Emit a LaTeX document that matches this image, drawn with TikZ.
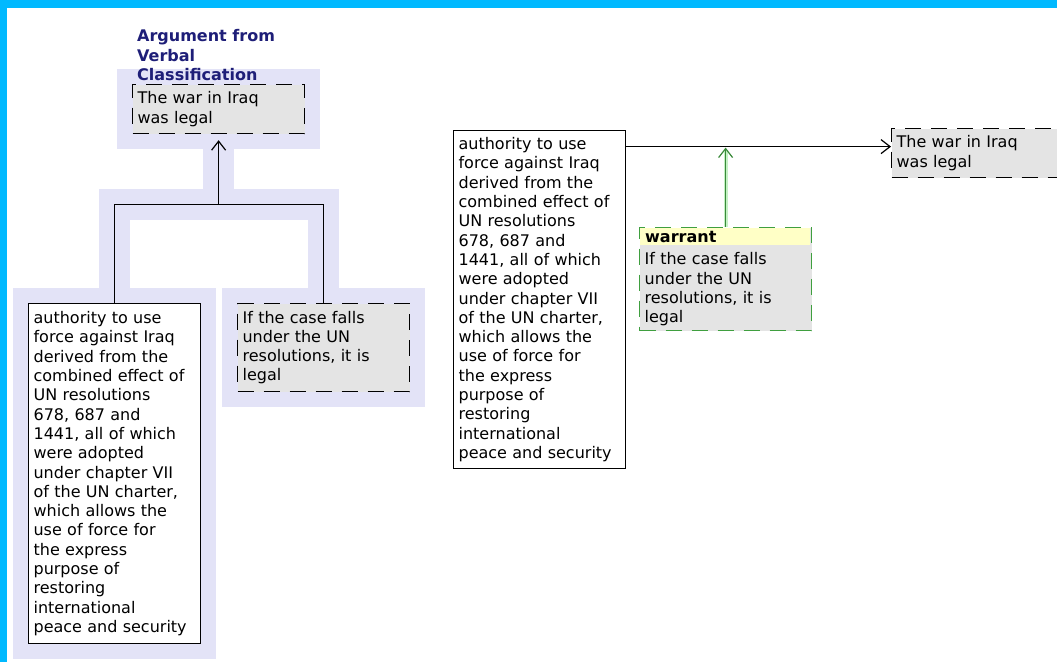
\documentclass[tikz,border=0pt]{standalone}
\usepackage{fontspec}
\setmainfont{DejaVu Sans}
\usepackage{tikz}
\usetikzlibrary{arrows.meta,positioning,fit,backgrounds}
\definecolor{FrameBlue}{HTML}{00B9FF}
\definecolor{HaloLav}{HTML}{E3E3F7}
\definecolor{ClaimGray}{HTML}{E4E4E4}
\definecolor{TitleNavy}{HTML}{1E1E78}
\definecolor{WarrGreen}{HTML}{3F9F3F}
\definecolor{GlowGreen}{HTML}{C4F2C4}
\definecolor{HeadYellow}{HTML}{FFFFC6}
\definecolor{LineGreen}{HTML}{3A8A3A}
\tikzset{
  claim/.style={rectangle,align=left,anchor=north west,text width=162pt,
              inner xsep=5pt,inner ysep=4pt,line width=1.2pt,
              font=\fontsize{16}{19.3}\selectfont},
  whitebox/.style={claim,draw=black,fill=white},
  graybox/.style={claim,draw=black,fill=ClaimGray,dash pattern=on 16pt off 10pt},
  warrbox/.style={claim,draw=WarrGreen,fill=ClaimGray,dash pattern=on 16pt off 10pt},
  headbox/.style={rectangle,anchor=north west,fill=HeadYellow,text width=160pt,
              inner xsep=5pt,inner ysep=1pt,minimum height=17pt,
              font=\fontsize{16}{19.3}\selectfont\bfseries},
  title/.style={align=left,inner sep=0pt,text=TitleNavy,
              font=\fontsize{16}{19.5}\selectfont\bfseries},
  halo/.style={fill=HaloLav,draw=none,inner sep=15pt},
  haloline/.style={draw=HaloLav,line width=31pt},
  link/.style={draw=black,line width=1.2pt},
  arr/.style={link,-{Straight Barb[length=9pt,width=14pt]}},
  greenarr/.style={draw=LineGreen,line width=1.2pt,-{Straight Barb[length=9pt,width=14pt]}},
  glowline/.style={draw=GlowGreen,line width=4pt}
}
\begin{document}
\begin{tikzpicture}[x=1pt,y=-1pt]
  \useasboundingbox (0,0) rectangle (1057,662);
  \clip (0,0) rectangle (1057,662);
  \fill[FrameBlue] (0,0) rectangle (1057,8);
  \fill[FrameBlue] (0,0) rectangle (7,662);

  % selected argument
  \node[graybox,minimum height=49pt] (concl) at (132,84) {The war in Iraq\\was legal};
  \node[title,anchor=south west] (scheme) at (137,81) {Argument from\\Verbal\\Classification};
  \node[whitebox,minimum height=340pt] (prem) at (28,303) {authority to use\\force against Iraq\\derived from the\\combined effect of\\UN resolutions\\678, 687 and\\1441, all of which\\were adopted\\under chapter VII\\of the UN charter,\\which allows the\\use of force for\\the express\\purpose of\\restoring\\international\\peace and security};
  \node[graybox,minimum height=88pt] (warr) at (237,303) {If the case falls\\under the UN\\resolutions, it is\\legal};
  \coordinate[below=70pt of concl.south] (join);

  \draw[link] (prem.north) |- (join) -| (warr.north);
  \draw[arr,shorten >=6pt] (join) -- (concl.south);

  % toulmin view
  \node[whitebox,minimum height=338pt] (prem2) at (453,130) {authority to use\\force against Iraq\\derived from the\\combined effect of\\UN resolutions\\678, 687 and\\1441, all of which\\were adopted\\under chapter VII\\of the UN charter,\\which allows the\\use of force for\\the express\\purpose of\\restoring\\international\\peace and security};
  \node[graybox,minimum height=49pt] (concl2) at (891,128) {The war in Iraq\\was legal};
  \node[warrbox,minimum height=103pt] (warr2) at (639,227) {\strut\\If the case falls\\under the UN\\resolutions, it is\\legal};
  \node[headbox] (head2) at ([shift={(1,1)}]warr2.north west) {warrant};
  \coordinate (tip2) at ([yshift=6.5pt]concl2.west);

  \draw[arr] (prem2.east |- tip2) -- (tip2);
  \draw[glowline] (warr2.north) -- ([yshift=-3pt]warr2.north |- tip2);
  \draw[greenarr,shorten >=1pt] (warr2.north) -- (warr2.north |- tip2);

  \begin{scope}[on background layer]
    \fill[white] (7,8) rectangle (1057,662);
    \node[halo,fit=(concl)] (concl-halo) {};
    \node[halo,fit=(prem)] (prem-halo) {};
    \node[halo,fit=(warr)] (warr-halo) {};
    \draw[haloline] (prem.north) |- (join) -| (warr.north);
    \draw[haloline] (join) -- (concl.south);
  \end{scope}
\end{tikzpicture}
\end{document}
